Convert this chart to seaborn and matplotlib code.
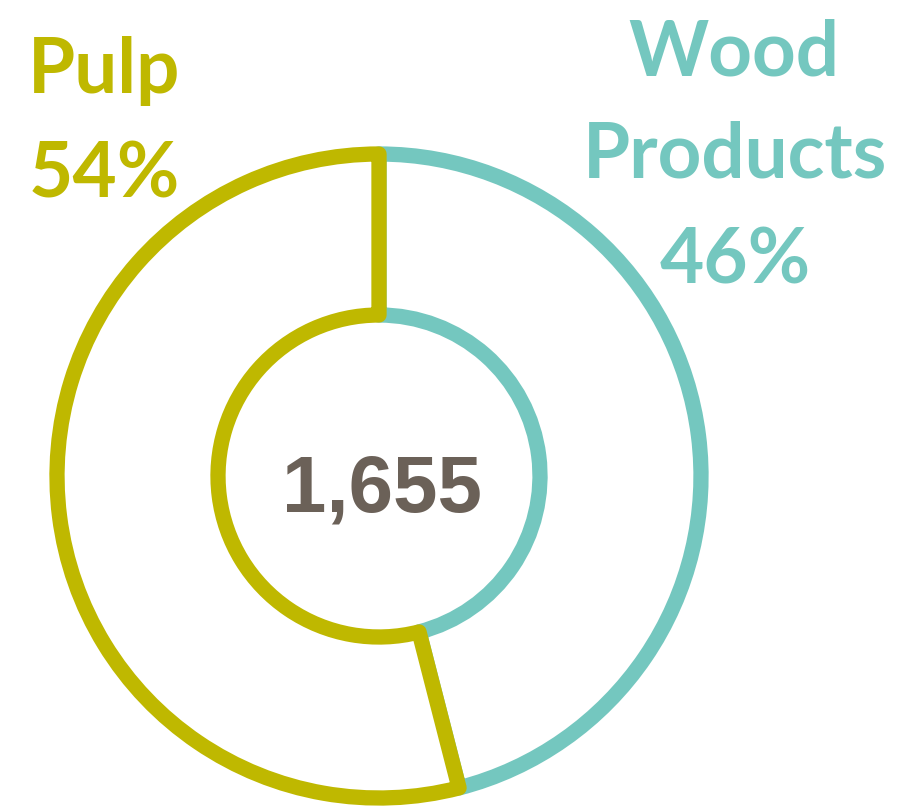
import matplotlib
matplotlib.use("Agg")
import matplotlib.pyplot as plt
import seaborn as sns

# data
segments = ["Wood\nProducts", "Pulp"]
shares = [46, 54]
total = "1,655"
colors = ["#74C7BF", "#BFB800"]
text_gray = "#6B6158"

sns.set_theme(style="white")

W, H = 902, 807
fig = plt.figure(figsize=(W / 100, H / 100), dpi=100)

# ring centre (379, 476) px, outer radius 322 px
cx, cy, r = 379, 476, 322
ax = fig.add_axes([(cx - r) / W, (H - cy - r) / H, 2 * r / W, 2 * r / H])

wedges, _ = ax.pie(shares, colors=["white", "white"], startangle=90,
                   counterclock=False, radius=1.0,
                   wedgeprops=dict(width=0.5, linewidth=11))
for w, c in zip(wedges, colors):
    w.set_edgecolor(c)
    w.set_joinstyle("round")
    w.set_clip_on(False)
ax.set_xlim(-1, 1)
ax.set_ylim(-1, 1)
ax.set_aspect("equal")
ax.axis("off")


def px(x, y):
    return x / W, 1 - y / H


lab_font = dict(family="Lato", weight="bold", fontsize=55, ha="center", va="baseline")

# Pulp label
fig.text(*px(104, 93), "Pulp", color=colors[1], **lab_font)
fig.text(*px(104, 198), f"{shares[1]}%", color=colors[1], **lab_font)

# Wood Products label
wood_lines = segments[0].split("\n")
fig.text(*px(734, 75), wood_lines[0], color=colors[0], **lab_font)
fig.text(*px(735, 178), wood_lines[1], color=colors[0], **lab_font)
fig.text(*px(735, 283), f"{shares[0]}%", color=colors[0], **lab_font)

# centre total
fig.text(*px(382, 512), total, color=text_gray, family="Liberation Sans",
         weight="bold", fontsize=57.5, ha="center", va="baseline")

fig.savefig("out.png", dpi=100, facecolor="white")
